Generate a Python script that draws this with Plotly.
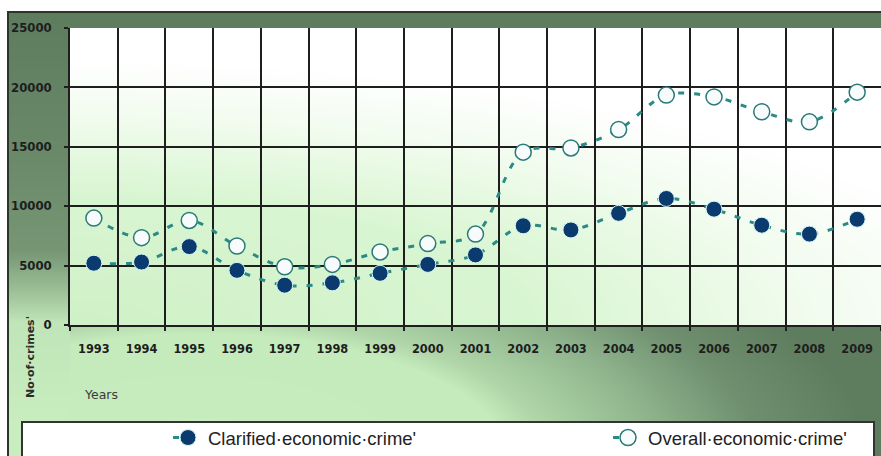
import base64
import struct
import zlib

import numpy as np
import plotly.graph_objects as go

# ---- data -------------------------------------------------------------
years = ["1993", "1994", "1995", "1996", "1997", "1998", "1999", "2000", "2001",
         "2002", "2003", "2004", "2005", "2006", "2007", "2008", "2009"]
clarified = [5200, 5300, 6600, 4600, 3350, 3550, 4350, 5100, 5900,
             8350, 8000, 9400, 10650, 9750, 8400, 7650, 8900]
overall = [9000, 7350, 8800, 6650, 4900, 5100, 6150, 6850, 7650,
           14550, 14900, 16450, 19350, 19200, 17950, 17100, 19600]
y_ticks = [0, 5000, 10000, 15000, 20000, 25000]

name_clarified = "Clarified·economic·crime'"
name_overall = "Overall·economic·crime'"

# ---- geometry ---------------------------------------------------------
W, H = 881, 456
ML, MT, MR, MB = 70, 28, 0, 131
PW = W - ML - MR
PH = H - MT - MB


def px(x):
    """figure pixel x -> paper x"""
    return (x - ML) / PW


def py(y):
    """figure pixel y (from top) -> paper y"""
    return (H - MB - y) / PH


def hex_rgb(h):
    h = h.lstrip("#")
    return [int(h[i:i + 2], 16) for i in (0, 2, 4)]


def ramp(d, stops, colors):
    cols = np.array([hex_rgb(c) for c in colors], dtype=float)
    out = np.empty(d.shape + (3,))
    for k in range(3):
        out[..., k] = np.interp(d, stops, cols[:, k])
    return out


def png_uri(rgb):
    h, w, _ = rgb.shape
    raw = b"".join(b"\x00" + rgb[i].tobytes() for i in range(h))

    def chunk(tag, data):
        body = tag + data
        return struct.pack(">I", len(data)) + body + struct.pack(">I", zlib.crc32(body) & 0xFFFFFFFF)

    png = (b"\x89PNG\r\n\x1a\n"
           + chunk(b"IHDR", struct.pack(">IIBBBBB", w, h, 8, 2, 0, 0, 0))
           + chunk(b"IDAT", zlib.compress(raw, 9))
           + chunk(b"IEND", b""))
    return "data:image/png;base64," + base64.b64encode(png).decode("ascii")


# ---- chart backdrop: green frame, pale plot area, legend panel -----------
X, Y = np.meshgrid(np.arange(W) + 0.5, np.arange(H) + 0.5)

# frame: light glow near the lower left, darkening towards the top and right
d_frame = np.sqrt(((X - 200) / 560) ** 2 + ((Y - 460) / 230) ** 2)
img = ramp(d_frame, [0, 0.55, 0.62, 0.8, 1.0, 1.2],
           ["#c8eec0", "#c5ebbd", "#b0d6a9", "#93b890", "#6f8f6f", "#5e7d5e"])

# strip left of the value axis: dark green, brightening below the plot
strip = (X < ML)
strip_col = ramp(Y, [13, 150, 250, 290, 322, 420],
                 ["#5e7d5e", "#698969", "#769674", "#9cbf97", "#c0e5b8", "#c8eec0"])
img[strip] = strip_col[strip]

# plot area: pale green lower left fading to white
u = (X - ML) / PW
v = (H - MB - Y) / PH
d_plot = np.sqrt((u / 1.15) ** 2 + (v / 0.88) ** 2)
plot_col = ramp(d_plot, [0, 0.5, 0.8, 1.0], ["#d0f1c8", "#d9f6d2", "#f2fcef", "#ffffff"])
in_plot = (X >= ML) & (Y >= MT) & (Y <= H - MB)
img[in_plot] = plot_col[in_plot]

# white outside the frame
outside = (X < 8) | (Y < 12)
img[outside] = 255

# legend panel
panel = (X >= 22) & (X <= 873) & (Y >= 422)
img[panel] = 255

img = np.clip(img, 0, 255).astype(np.uint8)
dark = np.array(hex_rgb("#2a362a"), dtype=np.uint8)
img[11:13, 7:] = dark          # frame top edge
img[11:, 7:9] = dark           # frame left edge
border = np.array(hex_rgb("#333333"), dtype=np.uint8)
img[421:423, 21:875] = border  # legend panel edges
img[421:, 21:23] = border
img[421:, 873:875] = border

backdrop = png_uri(img)

# ---- figure -----------------------------------------------------------
line_color = "#2a8a86"
grid_color = "#1e1e1e"
tick_font = dict(family="DejaVu Sans", color="#1e1e1e", weight="bold")
legend_font = dict(family="Liberation Sans, Arial, sans-serif", size=18.5, color="#222222")

fig = go.Figure()
fig.add_trace(go.Scatter(
    x=years, y=clarified, name=name_clarified, mode="lines+markers", legend="legend",
    line=dict(color=line_color, width=3, dash="6px,10px", shape="spline", smoothing=1),
    marker=dict(size=16, color="#0b3b6e", line=dict(color="#d8f8f4", width=1)),
))
fig.add_trace(go.Scatter(
    x=years, y=overall, name=name_overall, mode="lines+markers", legend="legend2",
    line=dict(color=line_color, width=3, dash="6px,10px", shape="spline", smoothing=1),
    marker=dict(size=16, color="#f7fbfc", line=dict(color="#2a7a78", width=1.5)),
))


def legend_at(x_px):
    return dict(
        xref="container", yref="container",
        x=x_px / W, xanchor="left", y=(H - 438) / H, yanchor="middle",
        orientation="h", bgcolor="rgba(0,0,0,0)", borderwidth=0,
        font=legend_font,
    )


fig.update_layout(
    width=W, height=H,
    margin=dict(l=ML, r=MR, t=MT, b=MB, pad=0),
    paper_bgcolor="#ffffff",
    plot_bgcolor="rgba(0,0,0,0)",
    showlegend=True,
    legend=legend_at(168),
    legend2=legend_at(608),
    images=[
        dict(source=backdrop, xref="paper", yref="paper",
             x=px(0), y=py(0), sizex=W / PW, sizey=H / PH,
             xanchor="left", yanchor="top", sizing="stretch", layer="below"),
    ],
    annotations=[
        dict(text="No·of·crimes'", textangle=-90, xref="paper", yref="paper",
             x=px(30), y=py(357), showarrow=False, xanchor="center", yanchor="middle",
             font=dict(family="DejaVu Sans", size=11, color="#2a2a2a", weight="bold")),
        dict(text="Years", xref="paper", yref="paper",
             x=px(82), y=py(394), showarrow=False, xanchor="left", yanchor="middle",
             font=dict(family="DejaVu Sans", size=12.5, color="#3a3a3a")),
    ],
)

fig.update_xaxes(
    type="category", categoryorder="array", categoryarray=years,
    range=[-0.5, len(years) - 0.5], tickson="boundaries",
    showgrid=True, gridcolor=grid_color, gridwidth=1.6,
    showline=True, linecolor=grid_color, linewidth=1.8,
    ticks="outside", ticklen=4, tickcolor=grid_color, tickwidth=1.5,
    tickfont=dict(size=11.4, **tick_font), ticklabelstandoff=12,
    zeroline=False, fixedrange=True,
)
fig.update_yaxes(
    range=[0, 25000], tickvals=y_ticks, ticktext=[str(v) for v in y_ticks],
    showgrid=True, gridcolor=grid_color, gridwidth=1.6,
    showline=True, linecolor=grid_color, linewidth=1.8,
    ticks="outside", ticklen=4, tickcolor=grid_color, tickwidth=1.5,
    tickfont=dict(size=11.7, **tick_font), ticklabelstandoff=10,
    zeroline=False, fixedrange=True,
)

fig.write_html("out.html")
